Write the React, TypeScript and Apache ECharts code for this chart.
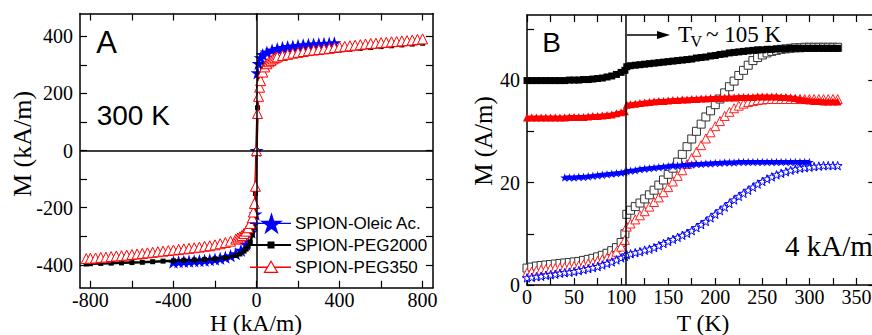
import React, { useEffect, useRef } from 'react';
import * as echarts from 'echarts';

// ---------- Panel A : hysteresis loops at 300 K ----------
const hOleic = [-400,-375,-350,-325,-300,-275,-250,-225,-200,-175,-150,-125,-100,-75,-50,-25,-15,-5,0,5,10,20,30,50,75,100,125,150,175,200,225,250,275,300,325,350,375];
const mOleic = [-390,-389,-388,-387,-386,-385,-384,-382,-380,-377,-373,-368,-361,-349,-328,-285,-258,-222,0,272,305,325,336,345,352,357,361,364,366,368,370,372,373,374,375,376,377];

const hPeg2000 = [-820,-800,-750,-700,-650,-600,-550,-500,-450,-400,-350,-300,-250,-200,-150,-100,-80,-60,-50,-40,-30,-20,-15,-10,-5,0,5,10,15,20,30,40,50,60,80,100,150,200,250,300,350,400,450,500,550,600,650,700,750,800];
const mPeg2000 = [-397,-396,-395,-394,-393,-392,-391,-389,-387,-386,-384,-383,-381,-379,-375,-367,-362,-352,-345,-335,-320,-295,-270,-230,-150,0,150,220,248,265,285,298,306,312,320,325,333,338,342,346,349,352,355,358,361,364,367,370,373,376];

const hPeg350 = [-820,-800,-775,-750,-725,-700,-675,-650,-625,-600,-575,-550,-525,-500,-475,-450,-425,-400,-375,-350,-325,-300,-275,-250,-225,-200,-175,-150,-125,-100,-90,-80,-70,-60,-50,-40,-30,-20,-15,-10,-5,0,5,10,15,20,30,40,50,60,70,80,90,100,125,150,175,200,225,250,275,300,325,350,375,400,425,450,475,500,525,550,575,600,625,650,675,700,725,750,775,800];
const mPeg350 = [-378,-377,-376,-374,-373,-371,-369,-368,-366,-364,-362,-360,-358,-356,-354,-352,-350,-348,-346,-344,-342,-340,-338,-335,-333,-330,-326,-322,-317,-310,-306,-302,-297,-290,-282,-270,-255,-235,-215,-185,-125,0,130,190,222,245,275,293,304,311,316,321,325,328,333,337,341,344,347,350,352,354,356,358,361,363,365,367,369,371,373,375,376,378,379,381,382,384,385,387,389,391];

const hTicks = [-800,-600,-400,-200,0,200,400,600,800];
const hLabels = [-800,-400,0,400,800];
const mTicksA = [-400,-300,-200,-100,0,100,200,300,400];
const mLabelsA = [-400,-200,0,200,400];

const legendNames = ['SPION-Oleic Ac.', 'SPION-PEG2000', 'SPION-PEG350'];

// ---------- Panel B : M vs T at 4 kA/m ----------
const tempK = [0,5,10,15,20,25,30,35,40,45,50,55,60,65,70,75,80,85,90,95,100,104,106,110,115,120,125,130,135,140,145,150,155,160,165,170,175,180,185,190,195,200,205,210,215,220,225,230,235,240,245,250,255,260,265,270,275,280,285,290,295,300,305,310,315,320,325,330];

const fcPeg2000 = [39.9,39.9,39.9,39.9,39.9,39.9,39.9,39.9,39.9,40.0,40.0,40.0,40.1,
  40.1,40.2,40.3,40.4,40.6,40.8,41.1,41.5,
  41.9,42.6,
  42.8,42.9,43.0,43.1,43.2,43.3,43.4,43.5,43.6,43.7,
  43.8,43.9,44.0,44.1,44.3,44.4,44.5,44.7,44.8,45.0,
  45.1,45.3,45.4,45.5,45.6,45.7,45.8,45.9,45.9,46.0,
  46.0,46.1,46.1,46.1,46.2,46.2,46.2,46.2,46.2,46.2,
  46.2,46.2,46.2,46.2,46.2];

const fcPeg350 = [32.7,32.7,32.7,32.7,32.7,32.7,32.7,32.7,32.7,32.8,32.8,32.8,32.8,
  32.9,33.0,33.0,33.1,33.2,33.3,33.5,33.7,
  33.9,35.2,
  35.3,35.4,35.5,35.6,35.7,35.8,35.9,35.9,36.0,36.1,
  36.1,36.2,36.2,36.3,36.3,36.4,36.4,36.5,36.5,36.5,
  36.6,36.6,36.6,36.7,36.7,36.7,36.7,36.8,36.8,36.8,
  36.8,36.8,36.7,36.7,36.6,36.5,36.3,36.1,36.0,35.9,
  35.9,35.8,35.8,35.8,35.8];

const fcOleic = [null,null,null,null,null,null,null,null,21.0,21.0,21.0,21.1,21.1,
  21.2,21.3,21.4,21.5,21.6,21.7,21.8,21.9,
  22.0,22.2,
  22.3,22.4,22.6,22.7,22.8,22.9,23.0,23.1,23.2,23.3,
  23.3,23.4,23.4,23.5,23.6,23.6,23.7,23.7,23.8,23.8,
  23.9,23.9,23.9,24.0,24.0,24.0,24.0,24.0,24.0,24.0,
  24.0,24.0,24.0,24.0,24.0,24.0,24.0,24.0,24.0,null,
  null,null,null,null,null];

const zfcPeg2000 = [3.3,3.5,3.7,3.8,3.9,4.0,4.1,4.2,4.3,4.4,4.5,4.6,4.8,
  5.0,5.2,5.5,5.8,6.2,6.7,7.3,8.3,
  10.0,13.8,
  14.6,15.3,16.0,16.8,17.6,18.5,19.5,20.5,21.6,22.8,
  24.0,25.5,27.0,28.5,30.0,31.4,32.8,34.0,35.2,36.3,
  37.5,38.7,39.8,40.9,41.9,42.9,43.8,44.4,44.9,45.3,
  45.6,45.8,46.0,46.1,46.2,46.3,46.3,46.4,46.4,46.4,
  46.4,46.4,46.4,46.4,46.4];

const zfcPeg350 = [2.4,2.6,2.8,3.0,3.1,3.2,3.3,3.4,3.5,3.6,3.7,3.8,4.0,
  4.2,4.4,4.7,5.0,5.3,5.8,6.5,7.5,
  8.8,11.4,
  12.0,12.8,13.6,14.4,15.3,16.2,17.1,18.1,19.1,20.2,
  21.3,22.4,23.6,24.8,26.0,27.3,28.6,29.8,31.0,32.0,
  33.0,33.8,34.5,35.0,35.4,35.7,35.9,36.1,36.2,36.3,
  36.3,36.3,36.3,36.3,36.3,36.3,36.3,36.3,36.3,36.3,
  36.3,36.3,36.3,36.3,36.3];

const zfcOleic = [1.4,1.5,1.6,1.7,1.9,2.0,2.1,2.3,2.4,2.5,2.6,2.8,3.0,
  3.2,3.4,3.6,3.9,4.2,4.5,4.9,5.3,
  5.6,5.9,
  6.1,6.3,6.5,6.8,7.0,7.3,7.7,8.1,8.5,8.9,
  9.3,9.7,10.1,10.6,11.2,11.8,12.4,13.1,13.8,14.5,
  15.2,15.9,16.6,17.3,17.9,18.5,19.1,19.7,20.2,20.7,
  21.1,21.5,21.8,22.1,22.4,22.6,22.8,22.9,23.0,23.1,
  23.2,23.3,23.3,23.3,23.3];

const tTicks = [0,25,50,75,100,125,150,175,200,225,250,275,300,325,350];
const tLabels = [0,50,100,150,200,250,300,350];
const mTicksB = [0,10,20,30,40,50];
const mLabelsB = [0,20,40];
const verweyT = 105;

const SERIF = 'Liberation Serif';
const SANS = 'Liberation Sans';
const STAR_PTS = [[50,2],[61.17,36.63],[97.55,36.55],[68.07,57.87],[79.39,92.45],[50,71],[20.61,92.45],[31.93,57.87],[2.45,36.55],[38.83,36.63]];
const STAR = 'path://M' + STAR_PTS.map((p) => p.join(' ')).join(' L') + ' Z';

const pairs = (xs: number[], ys: (number | null)[]) =>
  xs.map((x, i) => [x, ys[i]]).filter((d) => d[1] != null);

function axis(grid: number, pos: string, min: number, max: number, ticks: number[], labels: number[] | null, margin = 6) {
  return {
    type: 'value',
    gridIndex: grid,
    position: pos,
    min,
    max,
    axisLine: { show: true, onZero: false, lineStyle: { color: '#000', width: 1.5 } },
    axisTick: { show: true, inside: true, length: 7, customValues: ticks, lineStyle: { color: '#000', width: 1.2 } },
    axisLabel: labels
      ? { show: true, customValues: labels, color: '#000', fontFamily: SERIF, fontSize: 20, margin, lineHeight: 20 }
      : { show: false },
    splitLine: { show: false },
    minorTick: { show: false },
  };
}

function text(x: number, y: number, t: string, size: number, family: string, align = 'center', vAlign = 'middle', rotation = 0) {
  return {
    type: 'text',
    x,
    y,
    rotation,
    silent: true,
    style: {
      text: t,
      fontSize: size,
      fontFamily: family,
      fill: '#000',
      align,
      verticalAlign: vAlign,
      textAlign: align,
      textVerticalAlign: vAlign,
    },
  };
}

function starIcon(cx: number, cy: number, w: number, fill: string) {
  const s = w / 95.1;
  return {
    type: 'polygon', silent: true, z: 10,
    shape: { points: STAR_PTS.map(([px, py]) => [cx + (px - 50) * s, cy + (py - 47.2) * s]) },
    style: { fill },
  };
}

function legendLine(y: number, color: string, width: number) {
  return {
    type: 'line', silent: true, z: 9,
    shape: { x1: 250, y1: y, x2: 291, y2: y },
    style: { stroke: color, lineWidth: width },
  };
}

export default function App() {
  const ref = useRef<HTMLDivElement>(null);
  useEffect(() => {
    const chart = echarts.init(ref.current!, null, { renderer: 'svg' });
    const zeroLines = {
      silent: true,
      symbol: ['none', 'none'],
      label: { show: false },
      lineStyle: { color: '#000', width: 1.5, type: 'solid' },
      emphasis: { disabled: true },
      data: [{ xAxis: 0 }, { yAxis: 0 }],
    };
    const rowY = [223.3, 245, 267.3];
    const option: any = {
      animation: false,
      backgroundColor: '#fff',
      grid: [
        { left: 80, top: 13.5, width: 353, height: 274.2 },
        { left: 527, top: 15, width: 348.3, height: 270 },
      ],
      xAxis: [
        axis(0, 'bottom', -850, 850, hTicks, hLabels, 2),
        axis(0, 'top', -850, 850, hTicks, null),
        axis(1, 'bottom', 0, 370, tTicks, tLabels, 2),
        axis(1, 'top', 0, 370, tTicks, null),
      ],
      yAxis: [
        axis(0, 'left', -480, 480, mTicksA, mLabelsA, 7),
        axis(0, 'right', -480, 480, mTicksA, null),
        axis(1, 'left', 0, 52.7, mTicksB, mLabelsB, 7),
        axis(1, 'right', 0, 52.7, mTicksB, null),
      ],
      series: [
        {
          name: legendNames[0], type: 'line', xAxisIndex: 0, yAxisIndex: 0,
          data: pairs(hOleic, mOleic), symbol: STAR, symbolSize: 14, symbolKeepAspect: true,
          itemStyle: { color: '#0000ff' }, lineStyle: { color: '#0000ff', width: 1.2 },
          emphasis: { disabled: true }, markLine: zeroLines, z: 2,
        },
        {
          name: legendNames[1], type: 'line', xAxisIndex: 0, yAxisIndex: 0,
          data: pairs(hPeg2000, mPeg2000), symbol: 'rect', symbolSize: 5,
          itemStyle: { color: '#000' }, lineStyle: { color: '#000', width: 2.5 },
          emphasis: { disabled: true }, z: 3,
        },
        {
          name: legendNames[2], type: 'line', xAxisIndex: 0, yAxisIndex: 0,
          data: pairs(hPeg350, mPeg350), symbol: 'triangle', symbolSize: 10,
          itemStyle: { color: '#fff', borderColor: '#ff0000', borderWidth: 1 },
          lineStyle: { color: '#ff0000', width: 1.5 },
          emphasis: { disabled: true }, z: 4,
        },
        // Panel B: ZFC (open) first, FC (filled) on top
        {
          name: 'ZFC PEG2000', type: 'line', xAxisIndex: 2, yAxisIndex: 2,
          data: pairs(tempK, zfcPeg2000), symbol: 'rect', symbolSize: 8,
          itemStyle: { color: '#fff', borderColor: '#333', borderWidth: 1 },
          lineStyle: { color: '#333', width: 0.8 }, emphasis: { disabled: true }, z: 2,
          markLine: {
            silent: true, symbol: ['none', 'none'], label: { show: false },
            lineStyle: { color: '#000', width: 1.5, type: 'solid' }, emphasis: { disabled: true },
            data: [{ xAxis: verweyT }],
          },
        },
        {
          name: 'ZFC PEG350', type: 'line', xAxisIndex: 2, yAxisIndex: 2,
          data: pairs(tempK, zfcPeg350), symbol: 'triangle', symbolSize: 9,
          itemStyle: { color: '#fff', borderColor: '#ff2020', borderWidth: 1 },
          lineStyle: { color: '#ff2020', width: 0.8 }, emphasis: { disabled: true }, z: 2,
        },
        {
          name: 'ZFC Oleic', type: 'line', xAxisIndex: 2, yAxisIndex: 2,
          data: pairs(tempK, zfcOleic), symbol: STAR, symbolSize: 9, symbolKeepAspect: true,
          itemStyle: { color: '#fff', borderColor: '#0000ff', borderWidth: 1 },
          lineStyle: { color: '#0000ff', width: 0.8 }, emphasis: { disabled: true }, z: 2,
        },
        {
          name: 'FC PEG2000', type: 'line', xAxisIndex: 2, yAxisIndex: 2,
          data: pairs(tempK, fcPeg2000), symbol: 'rect', symbolSize: 7,
          itemStyle: { color: '#000' }, lineStyle: { color: '#000', width: 4 },
          emphasis: { disabled: true }, z: 3,
        },
        {
          name: 'FC PEG350', type: 'line', xAxisIndex: 2, yAxisIndex: 2,
          data: pairs(tempK, fcPeg350), symbol: 'triangle', symbolSize: 8,
          itemStyle: { color: '#ff0000' }, lineStyle: { color: '#ff0000', width: 4 },
          emphasis: { disabled: true }, z: 3,
        },
        {
          name: 'FC Oleic', type: 'line', xAxisIndex: 2, yAxisIndex: 2,
          data: pairs(tempK, fcOleic), symbol: STAR, symbolSize: 9, symbolKeepAspect: true,
          itemStyle: { color: '#0000ff' }, lineStyle: { color: '#0000ff', width: 4 },
          emphasis: { disabled: true }, z: 3,
        },
      ],
      graphic: [
        text(106.7, 42, 'A', 31, SANS),
        text(133.3, 115, '300 K', 28, SANS),
        text(551.7, 42.5, 'B', 28, SANS),
        text(785, 246, '4 kA/m', 29, SERIF, 'left'),
        text(22.5, 144, 'M (kA/m)', 26, SERIF, 'center', 'middle', Math.PI / 2),
        text(256, 322.5, 'H (kA/m)', 23.5, SERIF),
        text(483, 141, 'M (A/m)', 25, SERIF, 'center', 'middle', Math.PI / 2),
        text(703, 322.5, 'T (K)', 23.5, SERIF),
        text(678, 34, 'T', 23, SERIF, 'left'),
        text(690.5, 41.5, 'V', 16, SERIF, 'left'),
        text(706, 34, '~ 105 K', 23, SERIF, 'left'),
        {
          type: 'line', silent: true,
          shape: { x1: 627, y1: 35, x2: 662, y2: 35 },
          style: { stroke: '#000', lineWidth: 1.5 },
        },
        {
          type: 'polygon', silent: true,
          shape: { points: [[657, 31], [670, 35], [657, 39]] },
          style: { fill: '#000' },
        },
        // legend of panel A
        legendLine(rowY[0], '#0000ff', 1.3),
        starIcon(271.5, rowY[0], 23, '#0000ff'),
        text(295, rowY[0], legendNames[0], 17, SANS, 'left'),
        legendLine(rowY[1], '#000', 2),
        {
          type: 'rect', silent: true, z: 10,
          shape: { x: 267.5, y: rowY[1] - 3.5, width: 7, height: 7 },
          style: { fill: '#000' },
        },
        text(295, rowY[1], legendNames[1], 17, SANS, 'left'),
        legendLine(rowY[2], '#ff0000', 1.5),
        {
          type: 'polygon', silent: true, z: 10,
          shape: { points: [[271, rowY[2] - 6], [277.5, rowY[2] + 5], [264.5, rowY[2] + 5]] },
          style: { fill: '#fff', stroke: '#ff0000', lineWidth: 1.2 },
        },
        text(295, rowY[2], legendNames[2], 17, SANS, 'left'),
      ],
    };
    chart.setOption(option);
    return () => chart.dispose();
  }, []);
  return (
    <div
      ref={ref}
      style={{ position: 'fixed', left: 0, top: 0, width: 880, height: 335, background: '#fff' }}
    />
  );
}
